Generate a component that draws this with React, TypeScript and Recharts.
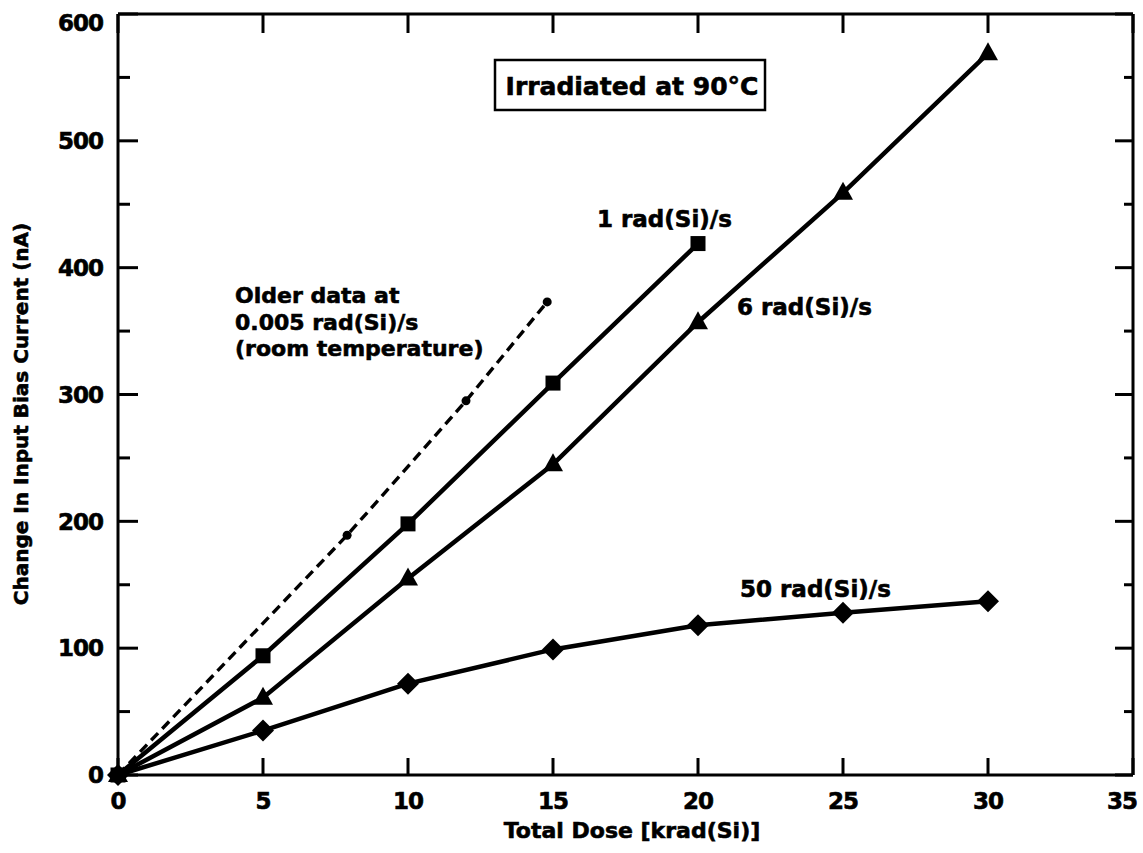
import { Customized, Line, LineChart, XAxis, YAxis } from 'recharts'

const FONT = '"DejaVu Sans", "Liberation Sans", sans-serif'

// axis ticks
const xTicks = [0, 5, 10, 15, 20, 25, 30, 35]
const yTicks = [0, 50, 100, 150, 200, 250, 300, 350, 400, 450, 500, 550, 600]

// 1 rad(Si)/s  (squares)
const dose1 = [0, 5, 10, 15, 20]
const bias1 = [0, 94, 198, 309, 419]

// 6 rad(Si)/s  (triangles)
const dose6 = [0, 5, 10, 15, 20, 25, 30]
const bias6 = [0, 61, 155, 245, 357, 459, 569]

// 50 rad(Si)/s  (diamonds)
const dose50 = [0, 5, 10, 15, 20, 25, 30]
const bias50 = [0, 35, 72, 99, 118, 128, 137]

// older data, 0.005 rad(Si)/s room temperature (dashed)
const doseOld = [0, 7.9, 12, 14.8]
const biasOld = [0, 189, 295, 373]

const toRows = (xs: number[], ys: number[]) => xs.map((x, i) => ({ dose: x, bias: ys[i] }))

const rows1 = toRows(dose1, bias1)
const rows6 = toRows(dose6, bias6)
const rows50 = toRows(dose50, bias50)
const rowsOld = toRows(doseOld, biasOld)

const Square = (p: any) => (
  <rect key={`sq-${p.index}`} x={p.cx - 7.5} y={p.cy - 7.5} width={15} height={15} fill="#000" />
)

const Triangle = (p: any) => (
  <path
    key={`tr-${p.index}`}
    d={`M${p.cx},${p.cy - 11} L${p.cx + 10},${p.cy + 7} L${p.cx - 10},${p.cy + 7} Z`}
    fill="#000"
  />
)

const Diamond = (p: any) => (
  <path
    key={`di-${p.index}`}
    d={`M${p.cx},${p.cy - 11} L${p.cx + 11},${p.cy} L${p.cx},${p.cy + 11} L${p.cx - 11},${p.cy} Z`}
    fill="#000"
  />
)

const SmallDot = (p: any) =>
  p.payload.dose === 0 ? (
    <g key={`od-${p.index}`} />
  ) : (
    <circle key={`od-${p.index}`} cx={p.cx} cy={p.cy} r={4.5} fill="#000" />
  )

const heavy = { stroke: '#000', strokeWidth: 0.6 }

// ticks point inward on all four sides; minor y ticks at the 50s are shorter
const LeftTick = ({ x, y, payload }: any) => {
  const major = payload.value % 100 === 0
  return (
    <g>
      <line x1={x} x2={x + (major ? 20 : 12)} y1={y} y2={y} stroke="#000" strokeWidth={3} />
      {major && (
        <text
          x={x - 15}
          y={Math.max(y, 23)}
          dy="0.36em"
          textAnchor="end"
          fontFamily={FONT}
          fontWeight="bold"
          fontSize={23}
          letterSpacing={-1}
          fill="#000"
          {...heavy}
        >
          {payload.value}
        </text>
      )}
    </g>
  )
}

const RightTick = ({ x, y, payload }: any) => {
  const major = payload.value % 100 === 0
  return <line x1={x} x2={x - (major ? 18 : 9)} y1={y} y2={y} stroke="#000" strokeWidth={3} />
}

const BottomTick = ({ x, y, payload }: any) => (
  <g>
    <line x1={x} x2={x} y1={y} y2={y - 17} stroke="#000" strokeWidth={3} />
    <text
      x={Math.min(x, 1122)}
      y={y + 17}
      dy="0.72em"
      textAnchor="middle"
      fontFamily={FONT}
      fontWeight="bold"
      fontSize={23}
      letterSpacing={-1}
      fill="#000"
      {...heavy}
    >
      {payload.value}
    </text>
  </g>
)

const TopTick = ({ x, y }: any) => (
  <line x1={x} x2={x} y1={y} y2={y + 19} stroke="#000" strokeWidth={3} />
)

const labelStyle = {
  fontFamily: FONT,
  fontWeight: 'bold' as const,
  fill: '#000',
  stroke: '#000',
  strokeWidth: 0.6,
}

const Annotations = () => (
  <g>
    <rect x={495} y={60} width={270} height={50} fill="#fff" stroke="#000" strokeWidth={2.5} />
    <text x={632} y={95} textAnchor="middle" fontSize={25} {...labelStyle}>
      Irradiated at 90°C
    </text>
    <text x={597} y={227} fontSize={23} {...labelStyle}>
      1 rad(Si)/s
    </text>
    <text x={737} y={315} fontSize={23} {...labelStyle}>
      6 rad(Si)/s
    </text>
    <text x={740} y={597} fontSize={23} {...labelStyle}>
      50 rad(Si)/s
    </text>
    <text x={235} y={303} fontSize={22} {...labelStyle}>
      Older data at
    </text>
    <text x={235} y={330} fontSize={22} {...labelStyle}>
      0.005 rad(Si)/s
    </text>
    <text x={235} y={356} fontSize={22} {...labelStyle}>
      (room temperature)
    </text>
    <text x={632} y={838} textAnchor="middle" fontSize={22} {...labelStyle}>
      Total Dose [krad(Si)]
    </text>
    <text
      x={0}
      y={0}
      transform="translate(28, 414) rotate(-90)"
      textAnchor="middle"
      fontSize={20}
      {...labelStyle}
    >
      Change In Input Bias Current (nA)
    </text>
  </g>
)

export default function App() {
  return (
    <div style={{ position: 'absolute', left: 0, top: 0, background: '#fff' }}>
      <LineChart width={1143} height={853} margin={{ top: 13, right: 9, bottom: 0, left: 0 }}>
        <XAxis
          dataKey="dose"
          type="number"
          domain={[0, 35]}
          ticks={xTicks}
          interval={0}
          height={78}
          tickSize={0}
          tickMargin={0}
          tickLine={false}
          axisLine={{ stroke: '#000', strokeWidth: 3 }}
          tick={<BottomTick />}
        />
        <XAxis
          xAxisId="top"
          orientation="top"
          dataKey="dose"
          type="number"
          domain={[0, 35]}
          ticks={xTicks}
          interval={0}
          height={1}
          tickSize={0}
          tickMargin={0}
          tickLine={false}
          axisLine={{ stroke: '#000', strokeWidth: 3 }}
          tick={<TopTick />}
        />
        <YAxis
          type="number"
          domain={[0, 600]}
          ticks={yTicks}
          interval={0}
          width={118}
          tickSize={0}
          tickMargin={0}
          tickLine={false}
          axisLine={{ stroke: '#000', strokeWidth: 3 }}
          tick={<LeftTick />}
        />
        <YAxis
          yAxisId="right"
          orientation="right"
          type="number"
          domain={[0, 600]}
          ticks={yTicks}
          interval={0}
          width={1}
          tickSize={0}
          tickMargin={0}
          tickLine={false}
          axisLine={{ stroke: '#000', strokeWidth: 3 }}
          tick={<RightTick />}
        />
        {/* invisible series so the top and right frame axes get drawn */}
        <Line
          xAxisId="top"
          yAxisId="right"
          data={rows6}
          dataKey="bias"
          stroke="none"
          dot={false}
          activeDot={false}
          isAnimationActive={false}
        />
        <Line
          data={rowsOld}
          dataKey="bias"
          type="linear"
          stroke="#000"
          strokeWidth={3.4}
          strokeDasharray="10 6"
          dot={SmallDot}
          activeDot={false}
          isAnimationActive={false}
        />
        <Line
          data={rows50}
          dataKey="bias"
          type="linear"
          stroke="#000"
          strokeWidth={4.5}
          dot={Diamond}
          activeDot={false}
          isAnimationActive={false}
        />
        <Line
          data={rows6}
          dataKey="bias"
          type="linear"
          stroke="#000"
          strokeWidth={4.5}
          dot={Triangle}
          activeDot={false}
          isAnimationActive={false}
        />
        <Line
          data={rows1}
          dataKey="bias"
          type="linear"
          stroke="#000"
          strokeWidth={4.5}
          dot={Square}
          activeDot={false}
          isAnimationActive={false}
        />
        <Customized component={Annotations} />
      </LineChart>
    </div>
  )
}
